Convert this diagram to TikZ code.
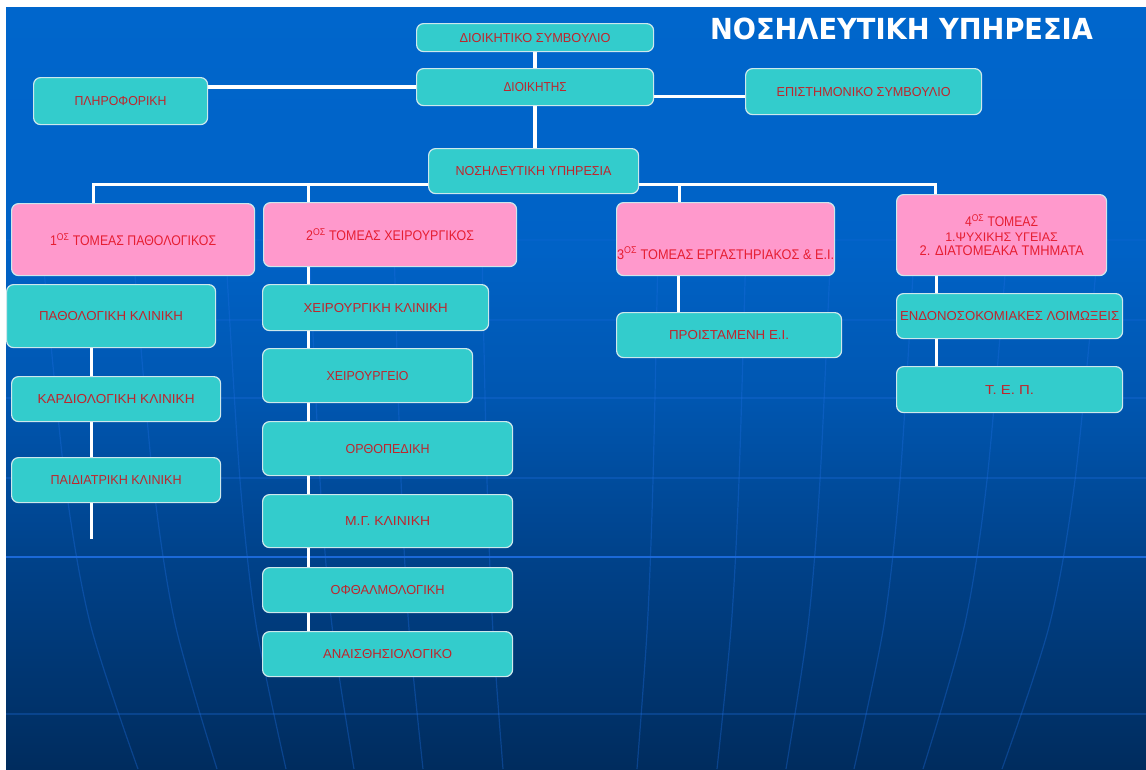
\documentclass[tikz,border=0pt]{standalone}
\usepackage{fontspec}
\setmainfont{Liberation Sans}
\newfontfamily\titlefont{DejaVu Sans}
\usepackage{graphicx}
\newcommand{\fitw}[2]{\resizebox{#1pt}{\height}{#2}}
\definecolor{turq}{RGB}{51,204,204}
\definecolor{pinkb}{RGB}{255,153,204}
\definecolor{tred}{RGB}{190,38,45}
\definecolor{pred}{RGB}{230,30,50}
\definecolor{bgtop}{RGB}{0,102,204}
\definecolor{bgA}{RGB}{0,98,198}
\definecolor{bgB}{RGB}{0,86,176}
\definecolor{bgC}{RGB}{0,66,138}
\definecolor{bgbot}{RGB}{0,44,94}
\definecolor{gridc}{RGB}{30,110,225}
\definecolor{boxline}{RGB}{205,232,236}
\pgfdeclareverticalshading{bgshade}{100bp}{color(0bp)=(bgbot); color(25bp)=(bgbot); color(38.9bp)=(bgC); color(49.2bp)=(bgB); color(59bp)=(bgA); color(75bp)=(bgtop); color(100bp)=(bgtop)}
\pgfdeclarelayer{back}
\pgfdeclarelayer{lines}
\pgfsetlayers{back,lines,main}
\tikzset{
  box/.style={draw=boxline, line width=1.2pt, rounded corners=7pt, inner sep=0pt,
    anchor=north west, fill=turq, text=tred, font=\fontsize{13}{15}\selectfont},
  pbox/.style={box, fill=pinkb, text=pred, font=\fontsize{14}{14.5}\selectfont},
  sz/.style 2 args={minimum width=#1pt, minimum height=#2pt},
  conn/.style={draw=white, line width=3.6pt},
  gridline/.style={draw=gridc, line width=1.2pt},
}
\begin{document}
\begin{tikzpicture}[x=1pt,y=-1pt]
\useasboundingbox (0,0) rectangle (1146,769);

% ---------- nodes ----------
\node[box, sz={237}{28}] (dsymb) at (416,23) {\fitw{151}{ΔΙΟΙΚΗΤΙΚΟ  ΣΥΜΒΟΥΛΙΟ}};
\node[box, sz={237}{37}] (dioik) at (416,68) {\fitw{63}{ΔΙΟΙΚΗΤΗΣ}};
\node[box, sz={236}{46}] (epist) at (745,68) {\fitw{174}{ΕΠΙΣΤΗΜΟΝΙΚΟ  ΣΥΜΒΟΥΛΙΟ}};
\node[box, sz={174}{47}] (plir) at (33,77) {\fitw{92}{ΠΛΗΡΟΦΟΡΙΚΗ}};
\node[box, sz={210}{45}] (nosil) at (428,148) {\fitw{156}{ΝΟΣΗΛΕΥΤΙΚΗ  ΥΠΗΡΕΣΙΑ}};

\node[pbox, sz={243}{72}] (t1) at (11,203) {\fitw{166}{1\textsuperscript{ΟΣ} ΤΟΜΕΑΣ ΠΑΘΟΛΟΓΙΚΟΣ}};
\node[pbox, sz={253}{64}] (t2) at (263,202) {\fitw{168}{2\textsuperscript{ΟΣ} ΤΟΜΕΑΣ ΧΕΙΡΟΥΡΓΙΚΟΣ}};
\node[pbox, sz={218}{73}, text height=40pt, text depth=0pt] (t3) at (616,202) {\fitw{217}{3\textsuperscript{ΟΣ} ΤΟΜΕΑΣ ΕΡΓΑΣΤΗΡΙΑΚΟΣ  \& Ε.Ι.}};
\node[pbox, sz={210}{81}, align=center] (t4) at (896,194) {\fitw{73}{4\textsuperscript{ΟΣ} ΤΟΜΕΑΣ}\\ {\fontsize{12.5}{14.5}\selectfont 1.ΨΥΧΙΚΗΣ ΥΓΕΙΑΣ}\\ \fitw{164}{2. ΔΙΑΤΟΜΕΑΚΑ  ΤΜΗΜΑΤΑ}};

\node[box, sz={209}{63}] (pat) at (6,284) {\fitw{144}{ΠΑΘΟΛΟΓΙΚΗ  ΚΛΙΝΙΚΗ}};
\node[box, sz={209}{45}] (kard) at (11,376) {\fitw{157}{ΚΑΡΔΙΟΛΟΓΙΚΗ  ΚΛΙΝΙΚΗ}};
\node[box, sz={209}{45}] (paid) at (11,457) {\fitw{131}{ΠΑΙΔΙΑΤΡΙΚΗ  ΚΛΙΝΙΚΗ}};

\node[box, sz={226}{46}] (xkl) at (262,284) {\fitw{144}{ΧΕΙΡΟΥΡΓΙΚΗ  ΚΛΙΝΙΚΗ}};
\node[box, sz={210}{54}] (xeir) at (262,348) {\fitw{82}{ΧΕΙΡΟΥΡΓΕΙΟ}};
\node[box, sz={250}{54}] (orth) at (262,421) {\fitw{84}{ΟΡΘΟΠΕΔΙΚΗ}};
\node[box, sz={250}{53}] (mg) at (262,494) {\fitw{85}{Μ.Γ. ΚΛΙΝΙΚΗ}};
\node[box, sz={250}{45}] (ofth) at (262,567) {\fitw{114}{ΟΦΘΑΛΜΟΛΟΓΙΚΗ}};
\node[box, sz={250}{45}] (anes) at (262,631) {\fitw{129}{ΑΝΑΙΣΘΗΣΙΟΛΟΓΙΚΟ}};

\node[box, sz={225}{45}] (proist) at (616,312) {\fitw{120}{ΠΡΟΙΣΤΑΜΕΝΗ  Ε.Ι.}};
\node[box, sz={226}{45}] (endo) at (896,293) {\fitw{219}{ΕΝΔΟΝΟΣΟΚΟΜΙΑΚΕΣ  ΛΟΙΜΩΞΕΙΣ}};
\node[box, sz={226}{46}] (tep) at (896,366) {\fitw{49}{Τ. Ε. Π.}};

\node[font=\titlefont\bfseries\fontsize{29}{30}\selectfont, text=white, anchor=base, inner sep=0pt] (title) at (901.5,39) {\fitw{383}{ΝΟΣΗΛΕΥΤΙΚΗ ΥΠΗΡΕΣΙΑ}};

% ---------- connectors ----------
\begin{pgfonlayer}{lines}
\draw[conn] (dsymb.south) -- (dioik.north);
\draw[conn] (dioik.south) -- (dioik.south |- nosil.north);
\draw[conn] (dioik.west) -- (dioik.west -| plir.east);
\draw[conn] ([yshift=-9.5pt]dioik.east) -- ([yshift=-9.5pt]dioik.east -| epist.west);
\coordinate (bus) at ([yshift=-13.5pt]nosil.center);
\draw[conn] ([xshift=-39.5pt]t1.north) |- (bus) -| ([xshift=-66pt]t4.north);
\draw[conn] ([xshift=-81.5pt]t2.north) -- ([xshift=-81.5pt]t2.north |- bus);
\draw[conn] ([xshift=-46pt]t3.north) -- ([xshift=-46pt]t3.north |- bus);
\coordinate (end1) at ([xshift=-24.5pt,yshift=-36pt]paid.south);
\draw[conn] ([xshift=-19.5pt]pat.south) -- (end1);
\draw[conn] ([xshift=-81.5pt]t2.south) -- ([xshift=-81.5pt]t2.south |- anes.north);
\draw[conn] ([xshift=-47pt]t3.south) -- ([xshift=-47pt]t3.south |- proist.north);
\draw[conn] ([xshift=-65pt]t4.south) -- ([xshift=-65pt]t4.south |- tep.north);
\end{pgfonlayer}

% ---------- background ----------
\begin{pgfonlayer}{back}
\fill[white] (0,0) rectangle (1146,769);
\shade[shading=bgshade] (6,7) rectangle (1146,769);
\begin{scope}
\clip (6,7) rectangle (1146,769);
\draw[gridline, opacity=.15] (6,240) -- (1146,240);
\draw[gridline, opacity=.22] (6,320) -- (1146,320);
\draw[gridline, opacity=.3] (6,398) -- (1146,398);
\draw[gridline, opacity=.3] (6,478) -- (1146,478);
\draw[gridline, opacity=.9, line width=1.5pt] (6,557) -- (1146,557);
\draw[gridline, opacity=.3] (6,714) -- (1146,714);
\foreach \a/\b in {83/67, 169/147, 250/216, 330/284, 417/353, 505/432} {
  \pgfmathsetmacro{\t}{\a+0.3*(\a-\b)}
  \pgfmathsetmacro{\m}{\a-0.35*(\a-\b)}
  \draw[gridline, opacity=.35] plot[smooth] coordinates {(570+\t,260) (570+\a,480) (570+\m,625) (570+\b,769)};
  \draw[gridline, opacity=.35] plot[smooth] coordinates {(570-\t,260) (570-\a,480) (570-\m,625) (570-\b,769)};
}
\end{scope}
\end{pgfonlayer}
\end{tikzpicture}
\end{document}
